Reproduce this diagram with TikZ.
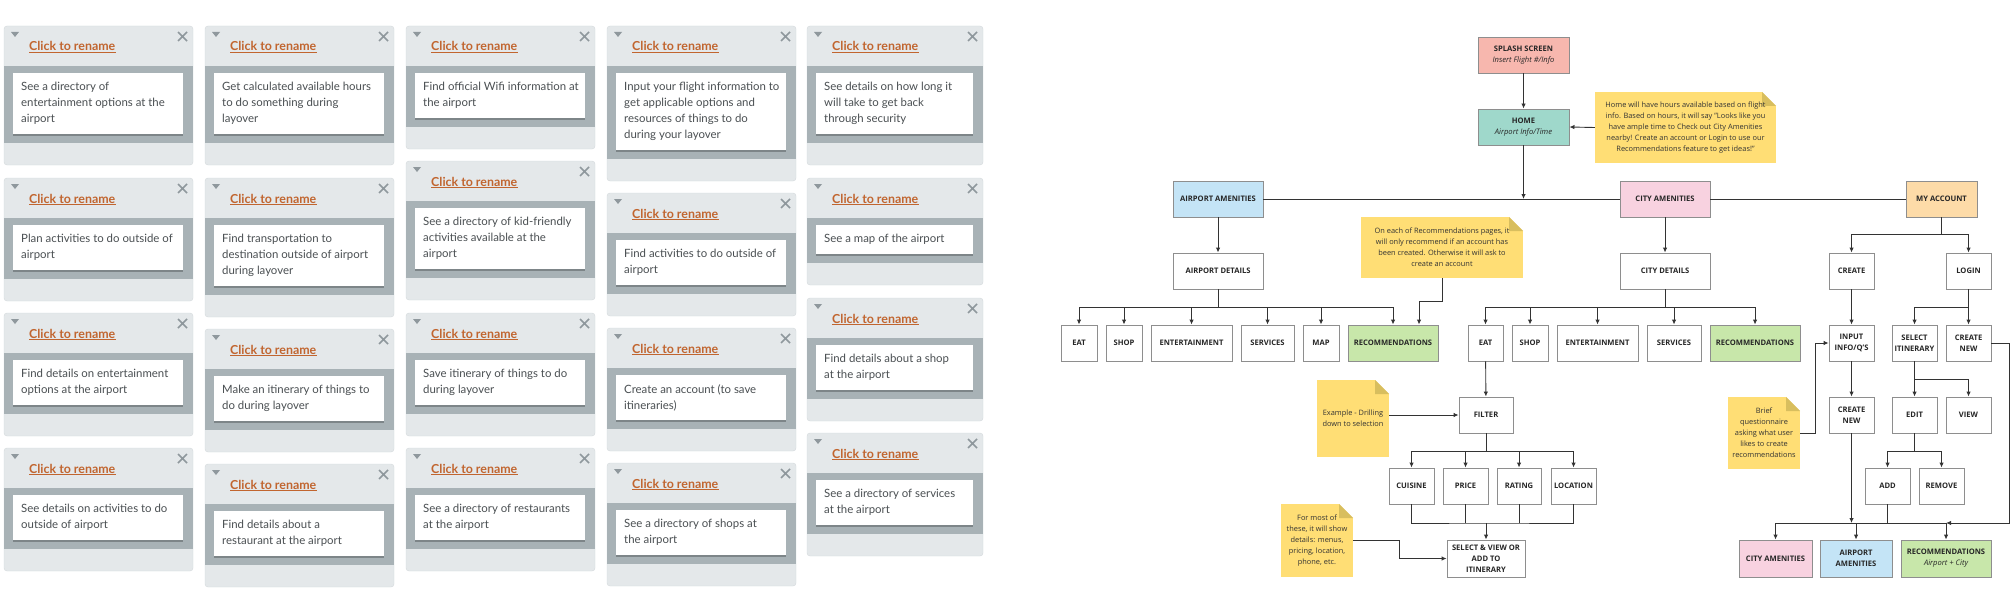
\documentclass[tikz,border=0pt]{standalone}
\usepackage{fontspec}
\setmainfont{Open Sans}
\newfontfamily\cardfont{Lato}
\usetikzlibrary{arrows.meta, shadows}

\definecolor{cardbg}{HTML}{E4E8EA}
\definecolor{cardline}{HTML}{D3D9DC}
\definecolor{bandbg}{HTML}{A8B2B6}
\definecolor{cardicon}{HTML}{8F989D}
\definecolor{titleorange}{HTML}{C1652F}
\definecolor{cardtextcol}{HTML}{4A4F52}
\definecolor{splashpink}{HTML}{F7B7AE}
\definecolor{hometeal}{HTML}{9FD8CB}
\definecolor{airblue}{HTML}{C4E4F6}
\definecolor{citypink}{HTML}{F8D2E0}
\definecolor{acctpeach}{HTML}{FDDBA8}
\definecolor{recgreen}{HTML}{C8E7AA}
\definecolor{noteyellow}{HTML}{FFDE75}
\definecolor{notefold}{HTML}{D8BE5E}
\definecolor{boxline}{HTML}{8E8E8E}

\tikzset{
  flowbox/.style={draw=boxline, line width=0.9pt, fill=white, inner sep=1pt,
    minimum height=36pt, align=center, text=black!85,
    font=\bfseries\fontsize{7.6}{11}\selectfont},
  notebox/.style={fill=noteyellow, inner sep=0pt, align=center, text=black!80,
    font=\fontsize{7.4}{11}\selectfont,
    path picture={
      \fill[white] ([xshift=-14pt]path picture bounding box.north east)
        -- (path picture bounding box.north east)
        -- ([yshift=-14pt]path picture bounding box.north east) -- cycle;
      \fill[notefold] ([xshift=-14pt]path picture bounding box.north east)
        -- ([xshift=-14pt,yshift=-14pt]path picture bounding box.north east)
        -- ([yshift=-14pt]path picture bounding box.north east) -- cycle;}},
  wire/.style={draw=black!80, line width=0.9pt},
  cardtitle/.style={inner sep=0pt, text=titleorange,
    font=\cardfont\bfseries\fontsize{12.4}{14}\selectfont},
  cardtext/.style={inner sep=0pt, align=left, text=cardtextcol,
    font=\cardfont\fontsize{11.4}{16}\selectfont},
}

\newcommand{\subline}[1]{{\mdseries\itshape #1}}

% name, x, y, width, lines, text
\newcommand{\usercard}[6]{%
  \pgfmathsetmacro\cardh{91+16*#5}%
  \pgfmathsetmacro\bandb{69+16*#5}%
  \pgfmathsetmacro\whiteb{60+16*#5}%
  \pgfmathsetmacro\textc{53.5+8*#5}%
  \begin{scope}[shift={(#2,#3)}]
    \draw[cardline, fill=cardbg, rounded corners=3pt] (0,0) rectangle (#4,\cardh);
    \fill[bandbg] (0,40) rectangle (#4,\bandb);
    \fill[white, drop shadow={shadow xshift=0pt, shadow yshift=-2pt, fill=black, opacity=0.25}]
      (9,47) rectangle (#4-10,\whiteb);
    \fill[cardicon] (7,6) -- (15,6) -- (11,11) -- cycle;
    \draw[cardicon, line width=1.5pt] (#4-15,6) -- (#4-6,15) (#4-15,15) -- (#4-6,6);
    \node[cardtitle, anchor=base west] (#1-title) at (25,25) {Click to rename};
    \draw[titleorange, line width=0.7pt] ([yshift=-1.8pt]#1-title.base west) -- ([yshift=-1.8pt]#1-title.base east);
    \node[cardtext, anchor=west] (#1-text) at (17,\textc) {#6};
  \end{scope}}

\begin{document}
\begin{tikzpicture}[x=1pt, y=-1pt, >={Latex[length=5pt,width=4.5pt]}]
    \useasboundingbox (0,0) rectangle (2012,607);

    % user story cards
    \usercard{ca}{4}{26}{189}{3}{See a directory of\\entertainment options at the\\airport}
    \usercard{cb}{4}{178}{189}{2}{Plan activities to do outside of\\airport}
    \usercard{cc}{4}{313}{189}{2}{Find details on entertainment\\options at the airport}
    \usercard{cd}{4}{448}{189}{2}{See details on activities to do\\outside of airport}

    \usercard{ce}{205}{26}{189}{3}{Get calculated available hours\\to do something during\\layover}
    \usercard{cf}{205}{178}{189}{3}{Find transportation to\\destination outside of airport\\during layover}
    \usercard{cg}{205}{329}{189}{2}{Make an itinerary of things to\\do during layover}
    \usercard{ch}{205}{464}{189}{2}{Find details about a\\restaurant at the airport}

    \usercard{ci}{406}{26}{189}{2}{Find official Wifi information at\\the airport}
    \usercard{cj}{406}{161}{189}{3}{See a directory of kid-friendly\\activities available at the\\airport}
    \usercard{ck}{406}{313}{189}{2}{Save itinerary of things to do\\during layover}
    \usercard{cl}{406}{448}{189}{2}{See a directory of restaurants\\at the airport}

    \usercard{cm}{607}{26}{189}{4}{Input your flight information to\\get applicable options and\\resources of things to do\\during your layover}
    \usercard{cn}{607}{193}{189}{2}{Find activities to do outside of\\airport}
    \usercard{co}{607}{328}{189}{2}{Create an account (to save\\itineraries)}
    \usercard{cp}{607}{463}{189}{2}{See a directory of shops at\\the airport}

    \usercard{cq}{807}{26}{176}{3}{See details on how long it\\will take to get back\\through security}
    \usercard{cr}{807}{178}{176}{1}{See a map of the airport}
    \usercard{cs}{807}{298}{176}{2}{Find details about a shop\\at the airport}
    \usercard{ct}{807}{433}{176}{2}{See a directory of services\\at the airport}

    % site map: top levels
    \node[flowbox, fill=splashpink, minimum width=91pt] (splash) at (1523.5,55) {SPLASH SCREEN\\\subline{Insert Flight \#/Info}};
    \node[flowbox, fill=hometeal, minimum width=91pt] (home) at (1523.5,127) {HOME\\\subline{Airport Info/Time}};
    \node[flowbox, fill=airblue, minimum width=90pt] (airamen) at (1218,199) {AIRPORT AMENITIES};
    \node[flowbox, fill=citypink, minimum width=90pt] (cityamen) at (1665,199) {CITY AMENITIES};
    \node[flowbox, fill=acctpeach, minimum width=71pt] (myacc) at (1941.5,199) {MY ACCOUNT};

    % airport branch
    \node[flowbox, minimum width=90pt] (airdet) at (1218,271) {AIRPORT DETAILS};
    \node[flowbox, minimum width=36pt] (a-eat) at (1079,343) {EAT};
    \node[flowbox, minimum width=36pt] (a-shop) at (1124,343) {SHOP};
    \node[flowbox, minimum width=81pt] (a-ent) at (1191.5,343) {ENTERTAINMENT};
    \node[flowbox, minimum width=53pt] (a-serv) at (1267.5,343) {SERVICES};
    \node[flowbox, minimum width=36pt] (a-map) at (1321,343) {MAP};
    \node[flowbox, fill=recgreen, minimum width=90pt] (a-rec) at (1393,343) {RECOMMENDATIONS};

    % city branch
    \node[flowbox, minimum width=90pt] (citydet) at (1665,271) {CITY DETAILS};
    \node[flowbox, minimum width=35pt] (c-eat) at (1485.5,343) {EAT};
    \node[flowbox, minimum width=36pt] (c-shop) at (1530,343) {SHOP};
    \node[flowbox, minimum width=81pt] (c-ent) at (1597.5,343) {ENTERTAINMENT};
    \node[flowbox, minimum width=54pt] (c-serv) at (1674,343) {SERVICES};
    \node[flowbox, fill=recgreen, minimum width=90pt] (c-rec) at (1755,343) {RECOMMENDATIONS};
    \node[flowbox, minimum width=54pt] (filter) at (1486,415) {FILTER};
    \node[flowbox, minimum width=45pt] (cuisine) at (1411.5,486) {CUISINE};
    \node[flowbox, minimum width=45pt] (price) at (1465.5,486) {PRICE};
    \node[flowbox, minimum width=44pt] (rating) at (1519,486) {RATING};
    \node[flowbox, minimum width=45pt] (location) at (1573.5,486) {LOCATION};
    \node[flowbox, minimum width=78pt, minimum height=37pt] (select) at (1486,558.5) {SELECT \& VIEW OR\\ADD TO\\ITINERARY};

    % account branch
    \node[flowbox, minimum width=45pt] (create) at (1851.5,271) {CREATE};
    \node[flowbox, minimum width=45pt] (login) at (1968.5,271) {LOGIN};
    \node[flowbox, minimum width=45pt] (input) at (1851.5,343) {INPUT\\INFO/Q'S};
    \node[flowbox, minimum width=45pt] (selitin) at (1914.5,343) {SELECT\\ITINERARY};
    \node[flowbox, minimum width=45pt] (lcreatenew) at (1968.5,343) {CREATE\\NEW};
    \node[flowbox, minimum width=45pt] (ccreatenew) at (1851.5,415) {CREATE\\NEW};
    \node[flowbox, minimum width=45pt] (edit) at (1914.5,415) {EDIT};
    \node[flowbox, minimum width=45pt] (view) at (1968.5,415) {VIEW};
    \node[flowbox, minimum width=45pt] (add) at (1887.5,486) {ADD};
    \node[flowbox, minimum width=45pt] (remove) at (1941.5,486) {REMOVE};
    \node[flowbox, fill=citypink, minimum width=73pt, minimum height=37pt] (bcity) at (1775.5,558.5) {CITY AMENITIES};
    \node[flowbox, fill=airblue, minimum width=72pt, minimum height=37pt] (bair) at (1856,558.5) {AIRPORT\\AMENITIES};
    \node[flowbox, fill=recgreen, minimum width=90pt, minimum height=37pt] (brec) at (1946,558.5) {RECOMMENDATIONS\\\subline{Airport + City}};

    % notes
    \node[notebox, minimum width=181pt, minimum height=71pt] (homenote) at (1685.5,127.5) {Home will have hours available based on flight\\info. Based on hours, it will say "Looks like you\\have ample time to Check out City Amenities\\nearby! Create an account or Login to use our\\Recommendations feature to get ideas!"};
    \node[notebox, minimum width=162pt, minimum height=61pt] (recnote) at (1442,247.5) {On each of Recommendations pages, it\\will only recommend if an account has\\been created. Otherwise it will ask to\\create an account};
    \node[notebox, minimum width=72pt, minimum height=77pt] (exnote) at (1353,418.5) {Example - Drilling\\down to selection};
    \node[notebox, minimum width=72pt, minimum height=73pt] (mostnote) at (1317,540.5) {For most of\\these, it will show\\details: menus,\\pricing, location,\\phone, etc.};
    \node[notebox, minimum width=72pt, minimum height=72pt] (briefnote) at (1764,433) {Brief\\questionnaire\\asking what user\\likes to create\\recommendations};

    \coordinate (hub) at (1523.5,199);
    \coordinate (busA) at (1218,307);
    \coordinate (busC) at (1665,307);
    \coordinate (busM) at (1941.5,234);
    \coordinate (busL) at (1968.5,307);
    \coordinate (busS) at (1914.5,379);
    \coordinate (busE) at (1914.5,451);
    \coordinate (busF) at (1486,451);
    \coordinate (busG) at (1486,523);
    \coordinate (busB) at (1860,523);

    % connectors
    \draw[wire, ->] (splash) -- (home);
    \draw[wire, ->] (home) -- (hub);
    \draw[wire] (airamen) -- (cityamen);
    \draw[wire] (cityamen) -- (myacc);
    \draw[wire, ->] (homenote.west) -- (home.east);

    \draw[wire, ->] (airamen) -- (airdet);
    \draw[wire] (airdet) -- (busA);
    \draw[wire, ->] (busA) -| (a-eat);
    \draw[wire, ->] (busA) -| (a-shop);
    \draw[wire, ->] (busA) -| (a-ent);
    \draw[wire, ->] (busA) -| (a-serv);
    \draw[wire, ->] (busA) -| (a-map);
    \draw[wire, ->] (busA) -| (a-rec);
    \draw[wire, ->] (recnote.south) -- ++(0,23) -| ([xshift=26pt]a-rec.north);

    \draw[wire, ->] (cityamen) -- (citydet);
    \draw[wire] (citydet) -- (busC);
    \draw[wire, ->] (busC) -| (c-eat);
    \draw[wire, ->] (busC) -| (c-shop);
    \draw[wire, ->] (busC) -| (c-ent);
    \draw[wire, ->] (busC) -| (c-serv);
    \draw[wire, ->] (busC) -| (c-rec);
    \draw[wire, ->] (c-eat) -- (filter);
    \draw[wire, ->] (exnote.east |- filter.west) -- (filter.west);
    \draw[wire] (filter) -- (busF);
    \draw[wire, ->] (busF) -| (cuisine);
    \draw[wire, ->] (busF) -| (price);
    \draw[wire, ->] (busF) -| (rating);
    \draw[wire, ->] (busF) -| (location);
    \draw[wire] (cuisine.south) |- (busG) -| (location.south);
    \draw[wire] (price) -- (price |- busG);
    \draw[wire] (rating) -- (rating |- busG);
    \draw[wire, ->] (busG) -- (select);
    \draw[wire, ->] (mostnote.east) -- ++(46,0) |- (select.west);

    \draw[wire] (myacc) -- (busM);
    \draw[wire, ->] (busM) -| (create);
    \draw[wire, ->] (busM) -| (login);
    \draw[wire, ->] (create) -- (input);
    \draw[wire, ->] (input) -- (ccreatenew);
    \draw[wire, ->] (briefnote.east) -- ++(15,0) |- (input.west);
    \draw[wire] (login) -- (busL);
    \draw[wire, ->] (busL) -| (selitin);
    \draw[wire, ->] (busL) -- (lcreatenew);
    \draw[wire] (selitin) -- (busS);
    \draw[wire, ->] (busS) -- (edit);
    \draw[wire, ->] (busS) -| (view);
    \draw[wire] (edit) -- (busE);
    \draw[wire, ->] (busE) -| (add);
    \draw[wire, ->] (busE) -| (remove);

    \draw[wire, ->] (ccreatenew) -- (ccreatenew |- busB);
    \draw[wire] (add) -- (add |- busB);
    \draw[wire, ->] (busB) -| (bcity);
    \draw[wire, ->] (busB) -| (bair);
    \draw[wire, ->] (busB) -| (brec);
    \draw[wire, ->] (lcreatenew.east) -- ++(18,0) |- (brec.north |- busB);

\end{tikzpicture}
\end{document}
